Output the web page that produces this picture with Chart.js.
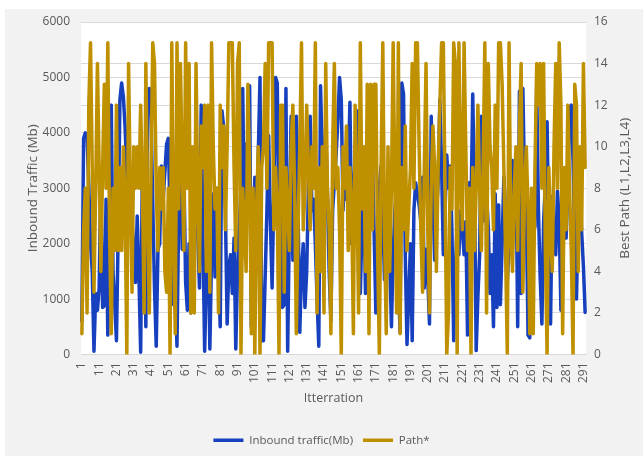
<!DOCTYPE html>
<html>
<head>
<meta charset="utf-8">
<script src="https://cdn.jsdelivr.net/npm/chart.js@4/dist/chart.umd.min.js"></script>
<style>
  html, body { margin: 0; padding: 0; background: #ffffff; }
  #wrap { width: 643px; height: 456px; }
</style>
</head>
<body>
<div id="wrap"><canvas id="chart" width="643" height="456"></canvas></div>
<script>
// Iteration numbers along the x axis
const iterationCount = 292;
const categories = Array.from({ length: iterationCount }, (_, i) => String(i + 1));
const labelEvery = 10;

// Inbound traffic per iteration (Mb)
const inboundTraffic = [
  600, 3900, 4000, 3950, 3050, 2000, 1500, 60, 1100, 800,
  1200, 3200, 850, 880, 2800, 350, 2500, 4500, 1500, 900,
  250, 2200, 4600, 4900, 4650, 4100, 3300, 2800, 3100, 2400,
  1900, 1300, 2500, 1400, 40, 3400, 3300, 500, 4750, 4800,
  4300, 2700, 1200, 150, 1900, 2000, 3400, 2800, 3300, 3800,
  3900, 2500, 1600, 900, 1200, 150, 2600, 4000, 1900, 3300,
  1300, 800, 2000, 750, 1800, 2900, 3600, 2200, 1200, 4500,
  2100, 60, 1400, 2600, 100, 1800, 2900, 1400, 3000, 1600,
  500, 4400, 4100, 2600, 550, 1600, 1800, 1100, 2100, 100,
  1500, 2300, 3000, 4800, 2300, 3800, 3000, 4850, 500, 1700,
  3200, 2200, 3600, 5000, 250, 250, 1400, 2600, 3950, 2400,
  1200, 2900, 5000, 4900, 1900, 2700, 850, 900, 4800, 60,
  2400, 4300, 1700, 3500, 4300, 2600, 400, 1500, 2000, 850,
  1500, 3000, 4300, 2600, 2800, 2000, 1000, 150, 4850, 3600,
  2400, 4100, 2900, 1500, 600, 2600, 3100, 3600, 4200, 5000,
  4600, 2600, 3300, 2800, 3300, 4550, 2000, 2800, 3600, 4400,
  2600, 1100, 2300, 3100, 1100, 1800, 3600, 3000, 3600, 2200,
  750, 2100, 3000, 3400, 2500, 1350, 2200, 2900, 1700, 500,
  1800, 2600, 3000, 1400, 400, 4900, 4700, 1800, 180, 1050,
  2000, 250, 2600, 3100, 2900, 2700, 2400, 3200, 1200, 1900,
  1400, 550, 4300, 2900, 1700, 2500, 3100, 4600, 3400, 1800,
  2600, 3600, 3000, 3400, 2200, 250, 1500, 2400, 1800, 2600,
  2300, 1800, 2400, 350, 3100, 2600, 4700, 3000, 70, 1050,
  1800, 4300, 3300, 2400, 2900, 2300, 1100, 1800, 500, 2900,
  850, 2700, 900, 2000, 3200, 2600, 1300, 2000, 2850, 3500,
  2900, 3500, 500, 4750, 1100, 4800, 3000, 2500, 350, 300,
  2700, 2850, 2300, 4850, 2600, 1400, 550, 2400, 3100, 4200,
  2000, 550, 2850, 2000, 1800, 2950, 2400, 800, 2600, 2400,
  2100, 3000, 4450, 4500, 3500, 2000, 1000, 2600, 3100, 2200,
  1600, 760
];

// Chosen path code per iteration (combination of L1..L4)
const bestPath = [
  1, 6, 8, 2, 12, 15, 9, 3, 8, 14,
  9, 4, 9, 13, 8, 15, 6, 1, 8, 5,
  12, 5, 9, 5, 10, 7, 0, 14, 8, 3,
  10, 8, 10, 8, 12, 8, 2, 14, 7, 2,
  9, 15, 14, 8, 5, 9, 7, 9, 4, 3,
  8, 0, 15, 6, 1, 15, 7, 14, 9, 5,
  15, 8, 14, 2, 10, 2, 14, 8, 4, 11,
  9, 12, 4, 12, 3, 15, 10, 7, 8, 2,
  12, 9, 11, 6, 10, 15, 15, 15, 9, 5,
  14, 15, 0, 8, 6, 4, 13, 9, 1, 8,
  0, 7, 10, 0, 9, 10, 14, 8, 15, 15,
  15, 6, 9, 7, 0, 12, 12, 3, 9, 7,
  5, 10, 12, 8, 1, 6, 10, 15, 6, 8,
  12, 9, 6, 10, 8, 15, 2, 9, 4, 10,
  2, 14, 8, 6, 1, 10, 14, 8, 9, 6,
  0, 10, 8, 11, 5, 9, 7, 1, 12, 8,
  2, 15, 7, 10, 4, 13, 1, 13, 6, 13,
  13, 5, 0, 9, 15, 6, 1, 10, 4, 8,
  15, 8, 2, 15, 1, 9, 6, 11, 5, 7,
  9, 14, 8, 15, 15, 10, 6, 3, 9, 14,
  6, 2, 8, 11, 9, 4, 9, 12, 15, 15,
  8, 0, 2, 9, 7, 15, 14, 0, 15, 9,
  6, 15, 10, 5, 8, 0, 9, 5, 8, 12,
  8, 5, 9, 15, 2, 14, 10, 9, 6, 12,
  8, 15, 15, 13, 9, 5, 0, 15, 6, 4,
  8, 10, 5, 11, 14, 3, 8, 10, 7, 1,
  8, 1, 9, 14, 12, 14, 8, 14, 5, 0,
  9, 6, 4, 10, 14, 8, 15, 12, 1, 9,
  6, 12, 8, 5, 0, 13, 12, 4, 10, 6,
  14, 9
];

const seriesNames = ['Inbound traffic(Mb)', 'Path*'];
const axisTitles = { x: 'Itterration', y: 'Inbound Traffic (Mb)', y1: 'Best Path (L1,L2,L3,L4)' };

const BLUE = '#1740be';
const GOLD = '#bf9000';
const GRID = '#d9d9d9';
const TEXT = '#595959';
const FONT = '"Open Sans", "DejaVu Sans", sans-serif';

// Grey panel with a white plotting area
const backdrop = {
  id: 'backdrop',
  beforeDraw(chart) {
    const { ctx, chartArea: a, width, height } = chart;
    ctx.save();
    ctx.fillStyle = '#ffffff';
    ctx.fillRect(0, 0, width, height);
    ctx.fillStyle = '#f2f2f2';
    ctx.fillRect(5, 9, width - 5, height - 9);
    ctx.fillStyle = '#ffffff';
    ctx.fillRect(a.left, a.top, a.right - a.left, a.bottom - a.top);
    ctx.restore();
  }
};

// Axis titles; both vertical titles read bottom-to-top
const axisTitleText = {
  id: 'axisTitleText',
  afterDraw(chart) {
    const { ctx, chartArea: a } = chart;
    const midY = (a.top + a.bottom) / 2;
    ctx.save();
    ctx.fillStyle = TEXT;
    ctx.textAlign = 'center';
    ctx.textBaseline = 'middle';
    ctx.font = '13.5px ' + FONT;
    ctx.save();
    ctx.translate(33, midY);
    ctx.rotate(-Math.PI / 2);
    ctx.fillText(axisTitles.y, 0, 0);
    ctx.restore();
    ctx.save();
    ctx.translate(625, midY);
    ctx.rotate(-Math.PI / 2);
    ctx.fillText(axisTitles.y1, 0, 0);
    ctx.restore();
    ctx.font = '12.5px ' + FONT;
    ctx.fillText(axisTitles.x, (a.left + a.right) / 2, 398);
    ctx.restore();
  }
};

new Chart(document.getElementById('chart'), {
  type: 'line',
  data: {
    labels: categories,
    datasets: [
      {
        label: seriesNames[0],
        data: inboundTraffic,
        yAxisID: 'y',
        borderColor: BLUE,
        backgroundColor: BLUE,
        borderWidth: 3.5,
        pointRadius: 0,
        tension: 0,
        borderJoinStyle: 'round',
        borderCapStyle: 'round',
        order: 2
      },
      {
        label: seriesNames[1],
        data: bestPath,
        yAxisID: 'y1',
        borderColor: GOLD,
        backgroundColor: GOLD,
        borderWidth: 3.5,
        pointRadius: 0,
        tension: 0,
        borderJoinStyle: 'round',
        borderCapStyle: 'round',
        order: 1
      }
    ]
  },
  options: {
    responsive: false,
    animation: false,
    devicePixelRatio: 1,
    layout: { padding: { top: 22, left: 0, right: 0, bottom: 0 } },
    plugins: {
      tooltip: { enabled: false },
      legend: {
        position: 'bottom',
        labels: {
          usePointStyle: true,
          pointStyle: 'line',
          pointStyleWidth: 30,
          boxHeight: 4,
          padding: 10,
          color: TEXT,
          font: { family: FONT, size: 11.5 },
          sort: (a, b) => a.datasetIndex - b.datasetIndex
        }
      }
    },
    scales: {
      x: {
        offset: true,
        grid: { display: false, drawTicks: false },
        border: { display: true, color: GRID, width: 1 },
        ticks: {
          autoSkip: false,
          minRotation: 90,
          maxRotation: 90,
          padding: 8,
          color: TEXT,
          font: { family: FONT, size: 12 },
          callback: (v, i) => (i % labelEvery === 0 ? categories[i] : '')
        },
        afterFit: (s) => { s.height = 70; }
      },
      y: {
        position: 'left',
        min: 0,
        max: 6000,
        grid: { color: GRID, drawTicks: false },
        border: { display: false },
        ticks: {
          stepSize: 1000,
          padding: 11,
          color: TEXT,
          font: { family: FONT, size: 12 },
          callback: (v) => String(v)
        },
        afterFit: (s) => { s.width = 81; }
      },
      y1: {
        position: 'right',
        min: 0,
        max: 16,
        grid: { color: GRID, drawTicks: false, drawOnChartArea: true },
        border: { display: false },
        ticks: {
          stepSize: 2,
          padding: 8,
          color: TEXT,
          font: { family: FONT, size: 12 },
          callback: (v) => String(v)
        },
        afterFit: (s) => { s.width = 57; }
      }
    }
  },
  plugins: [backdrop, axisTitleText]
});
</script>
</body>
</html>
